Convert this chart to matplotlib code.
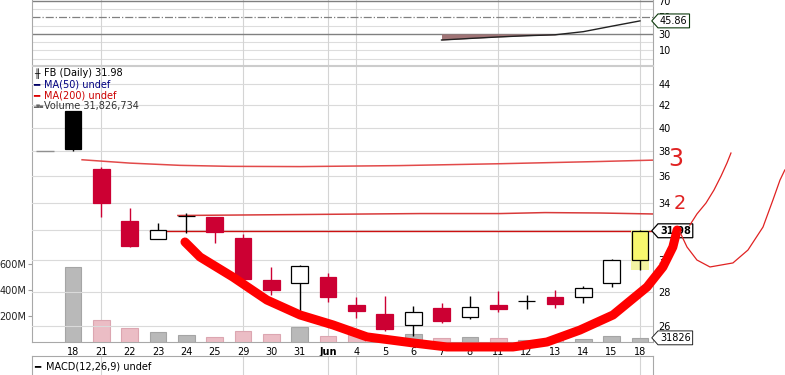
import matplotlib
matplotlib.use('Agg')
import matplotlib.pyplot as plt
from matplotlib.path import Path
from matplotlib.transforms import blended_transform_factory
import numpy as np

plt.rcParams['font.family'] = ['DejaVu Sans']
plt.rcParams['font.size'] = 7

# ---- data ----
dates = ['18', '21', '22', '23', '24', '25', '29', '30', '31', 'Jun',
         '4', '5', '6', '7', '8', '11', '12', '13', '14', '15', '18']
opens = [41.5, 36.58, 32.67, 31.39, 33.00, 32.97, 31.46, 28.73, 28.53, 28.90,
         27.21, 26.69, 26.04, 27.02, 26.53, 27.20, 27.47, 27.67, 27.67, 28.55, 30.00]
highs = [41.5, 36.76, 33.62, 32.55, 33.26, 32.97, 31.76, 29.54, 29.67, 29.15,
         27.67, 27.75, 27.16, 27.33, 27.73, 28.05, 27.79, 28.10, 28.35, 30.10, 32.00]
lows = [38.0, 32.97, 30.90, 31.39, 31.80, 31.12, 28.65, 27.81, 26.82, 27.38,
        26.44, 25.74, 25.46, 26.15, 26.41, 26.82, 26.96, 27.06, 27.35, 28.30, 29.37]
closes = [38.2, 33.99, 30.96, 32.03, 33.05, 31.91, 28.82, 28.13, 29.60, 27.71,
          26.88, 25.85, 26.79, 26.30, 27.08, 27.00, 27.43, 27.26, 28.26, 29.99, 31.98]
volumes = [575, 170, 108, 79, 56, 38, 87, 64, 115, 48,
           60, 42, 61, 31, 38, 31, 19, 17, 23, 46, 32]   # millions
ipo_price = 38.0
week_starts = [1, 6, 9, 10, 15, 20]

rsi_idx = [13, 14, 15, 16, 17, 18, 19, 20]
rsi_vals = [22.7, 24.6, 26.4, 27.9, 29.0, 32.8, 39.4, 45.86]

price_ticks = [26, 28, 30, 32, 34, 36, 38, 40, 42, 44]
vol_ticks = [200, 400, 600]
rsi_ticks = [10, 30, 50, 70]

# hand drawn marks (index, price)
level3_x = [0.32, 2.01, 3.77, 5.54, 8.01, 11.53, 15.06, 18.59, 20.46]
level3_p = [37.32, 37.05, 36.87, 36.79, 36.77, 36.85, 37.00, 37.18, 37.29]
level2_x = [3.70, 8.01, 12.24, 15.06, 16.65, 18.59, 20.46]
level2_p = [33.06, 33.13, 33.20, 33.20, 33.27, 33.24, 33.17]
last_line_x = [2.72, 20.46]
curve_x = [3.95, 4.48, 5.64, 6.84, 8.01, 9.17, 10.37, 11.99, 13.19, 14.36,
           15.52, 16.72, 17.88, 19.05, 20.25, 20.81, 21.16, 21.31]
curve_p = [31.21, 30.21, 28.92, 27.51, 26.63, 26.06, 25.39, 25.06, 24.84, 24.84,
           24.84, 25.11, 25.77, 26.63, 28.30, 29.56, 30.87, 32.03]
scrA_x = [21.76, 22.01, 22.33, 22.61, 22.86, 23.07, 23.21]
scrA_p = [32.38, 33.17, 33.97, 34.94, 36.02, 37.06, 37.87]
scrB_x = [21.41, 21.66, 22.01, 22.47, 23.28, 23.81, 24.34, 24.69, 24.94, 25.11]
scrB_p = [31.89, 30.87, 30.01, 29.56, 29.82, 30.67, 32.24, 34.19, 35.71, 36.50]

RED = '#cc0033'
W, H = 785, 375


def rect(x0, y0, x1, y1):
    return [x0 / W, 1 - y1 / H, (x1 - x0) / W, (y1 - y0) / H]


def tag_box(x0, y0, width, height, mutation_size):
    pad = 0.2 * mutation_size
    x0 -= pad
    y0 -= pad
    w = width + 2 * pad
    h = height + 2 * pad
    tip = 0.45 * h
    verts = [(x0 - tip, y0 + h / 2), (x0, y0), (x0 + w, y0), (x0 + w, y0 + h),
             (x0, y0 + h), (x0 - tip, y0 + h / 2)]
    return Path(verts, closed=True)


fig = plt.figure(figsize=(7.85, 3.75), dpi=100)
ax_rsi = fig.add_axes(rect(32, 0, 653, 65))
ax_vol = fig.add_axes(rect(32, 66, 653, 342))
ax = ax_vol.twinx()
ax_macd = fig.add_axes(rect(32, 355.5, 653, 390))

x = np.arange(len(dates))
xlim = (-1.446, 20.46)

# ---------- volume ----------
prev = [None] + closes[:-1]
vol_colors = []
vol_edges = []
for c, p in zip(closes, prev):
    if p is not None and c < p:
        vol_colors.append('#ebbdc5')
        vol_edges.append('#dca6b1')
    else:
        vol_colors.append('#b9b9b9')
        vol_edges.append('#a5a5a5')
ax_vol.bar(x, volumes, width=0.59, color=vol_colors, edgecolor=vol_edges, lw=0.8, zorder=3)
ax_vol.set_xlim(*xlim)
ax_vol.set_ylim(0, 2123)
ax_vol.set_yticks(vol_ticks)
ax_vol.set_yticklabels(['%dM' % v for v in vol_ticks])
ax_vol.tick_params(axis='y', length=3, color='#a0a0a0', pad=1, labelsize=7, labelcolor='#222222')
ax_vol.set_xticks(x)
ax_vol.set_xticklabels(dates)
ax_vol.tick_params(axis='x', length=0, pad=3.5, labelsize=7)
for lab in ax_vol.get_xticklabels():
    if lab.get_text() == 'Jun':
        lab.set_fontweight('bold')
for wk in week_starts:
    ax_vol.axvline(wk, color='#d4d4d4', lw=0.8, zorder=0)
for sp in ax_vol.spines.values():
    sp.set_color('#a8a8a8')
ax_vol.spines['top'].set_color('#cccccc')
ax_vol.annotate('31826', xy=(1, volumes[-1]),
                xycoords=blended_transform_factory(ax_vol.transAxes, ax_vol.transData),
                xytext=(5, 0), textcoords='offset points', va='center', ha='left',
                fontsize=7, annotation_clip=False, zorder=6,
                bbox=dict(boxstyle=tag_box, fc='white', ec='#222222', lw=0.7))

# ---------- price ----------
ax.set_yscale('log')
ax.set_ylim(25.11, 45.76)
ax.set_yticks(price_ticks)
ax.set_yticklabels([str(v) for v in price_ticks])
ax.yaxis.set_minor_locator(plt.NullLocator())
ax.tick_params(axis='y', length=0, pad=4, labelsize=7)
ax.grid(axis='y', color='#dadada', lw=0.8)
ax.set_axisbelow(True)
for sp in ax.spines.values():
    sp.set_visible(False)

ax.hlines(ipo_price, -1.30, -0.67, color='#909090', lw=1.0, zorder=3)

ax.plot(level3_x, level3_p, color='#e24a4a', lw=1.1, zorder=2)
ax.plot(level2_x, level2_p, color='#d83a3a', lw=1.1, zorder=2)
ax.plot(last_line_x, [closes[-1]] * 2, color='#cc1111', lw=1.0, zorder=2)

for i in range(len(dates)):
    o, h, l, c = opens[i], highs[i], lows[i], closes[i]
    if i == len(dates) - 1:
        ax.bar(i, h - l, bottom=l, width=0.66, color='#f4f4a2', lw=0, zorder=3)
        ax.vlines(i, l, h, color='black', lw=1, zorder=3.5)
        ax.bar(i, abs(c - o), bottom=min(o, c), width=0.59, color='#f8f86e',
               edgecolor='black', lw=0.9, zorder=4)
        continue
    if i == 0:
        fill, edge = 'black', 'black'
    elif c < closes[i - 1]:
        fill, edge = RED, RED
    elif c >= o:
        fill, edge = 'white', 'black'
    else:
        fill, edge = 'black', 'black'
    ax.vlines(i, l, h, color=edge, lw=1, zorder=3.5)
    ax.bar(i, max(abs(c - o), 0.03), bottom=min(o, c), width=0.59, color=fill,
           edgecolor=edge, lw=0.9, zorder=4)

blend = blended_transform_factory(ax.transAxes, ax.transData)
ax.annotate('31.98', xy=(1, closes[-1]), xycoords=blend, xytext=(5, 0),
            textcoords='offset points', va='center', ha='left', fontsize=7,
            fontweight='bold', annotation_clip=False, zorder=6,
            bbox=dict(boxstyle=tag_box, fc='white', ec='black', lw=0.9))

# legend block
def fx(px):
    return (px - 32) / 621


def fy(py):
    return 1 - (py - 66) / 276


ax.text(fx(34), fy(73.5), '\u256b', color='black', fontsize=6.5, va='center', ha='left')
ax.text(fx(44), fy(73.5), 'FB (Daily) 31.98', color='black', fontsize=7, va='center', ha='left')
ax.text(fx(33), fy(84.5), '\u2501', color='#000066', fontsize=7.5, va='center', ha='left')
ax.text(fx(44), fy(84.5), 'MA(50) undef', color='#000080', fontsize=7, va='center', ha='left')
ax.text(fx(33), fy(95), '\u2501', color='#dd0000', fontsize=7.5, va='center', ha='left')
ax.text(fx(44), fy(95), 'MA(200) undef', color='#cc0000', fontsize=7, va='center', ha='left')
ax.text(fx(33.5), fy(106), '\u2583\u2587\u2585', color='#666666', fontsize=3.2, va='center', ha='left')
ax.text(fx(44), fy(105.5), 'Volume 31,826,734', color='#333333', fontsize=7, va='center', ha='left')
for t in ax.texts[-8:]:
    t.set_transform(ax.transAxes)

# hand drawn annotations
ax.plot(curve_x, curve_p, color='#ff0000', lw=6.5, solid_capstyle='round',
        solid_joinstyle='round', zorder=10, clip_on=False)
ax.plot(scrA_x, scrA_p, color='#e02222', lw=0.9, zorder=10, clip_on=False)
ax.plot(scrB_x, scrB_p, color='#e02222', lw=0.9, zorder=10, clip_on=False)
ax.text(21.27, 37.4, '3', color='#e02222', fontsize=17, family=['DejaVu Sans'],
        fontweight='normal', ha='center', va='center', zorder=10, clip_on=False)
ax.text(21.41, 33.9, '2', color='#e02222', fontsize=14, family=['DejaVu Sans'],
        fontweight='normal', ha='center', va='center', zorder=10, clip_on=False)

# ---------- RSI panel ----------
ax_rsi.set_xlim(*xlim)
ax_rsi.set_ylim(-7.6, 71.2)
for v in [0, 10, 20, 40, 60]:
    ax_rsi.axhline(v, color='#dddddd', lw=0.8, zorder=0)
for v in [30, 70]:
    ax_rsi.axhline(v, color='#808080', lw=1.0, zorder=1)
ax_rsi.axhline(50, color='#808080', lw=0.9, ls='-.', zorder=1)
for wk in week_starts:
    ax_rsi.axvline(wk, color='#d4d4d4', lw=0.8, zorder=0)
rsi_arr = np.array(rsi_vals)
ax_rsi.fill_between(rsi_idx, rsi_arr, 30, where=rsi_arr < 30, interpolate=True,
                    color='#a07476', lw=0, zorder=2)
ax_rsi.plot(rsi_idx, rsi_vals, color='#222222', lw=1.0, zorder=3)
ax_rsi.yaxis.tick_right()
ax_rsi.set_yticks(rsi_ticks)
ax_rsi.set_yticklabels([str(v) for v in rsi_ticks])
ax_rsi.tick_params(axis='y', length=0, pad=4, labelsize=7)
ax_rsi.set_xticks([])
for sp in ax_rsi.spines.values():
    sp.set_color('#a8a8a8')
ax_rsi.spines['top'].set_visible(False)
ax_rsi.spines['bottom'].set_color('#cccccc')
ax_rsi.annotate('45.86', xy=(1, rsi_vals[-1]),
                xycoords=blended_transform_factory(ax_rsi.transAxes, ax_rsi.transData),
                xytext=(5, 0), textcoords='offset points', va='center', ha='left',
                fontsize=7, annotation_clip=False, zorder=6,
                bbox=dict(boxstyle=tag_box, fc='white', ec='#0d3a0d', lw=0.8))

# ---------- MACD panel ----------
ax_macd.set_xlim(*xlim)
ax_macd.set_ylim(0, 1)
for wk in week_starts:
    ax_macd.axvline(wk, color='#d4d4d4', lw=0.8, zorder=0)
ax_macd.set_xticks([])
ax_macd.set_yticks([])
for sp in ax_macd.spines.values():
    sp.set_color('#a8a8a8')
ax_macd.text(0.003, 0.68, '\u2501', color='black', fontsize=7.5, va='center',
             ha='left', transform=ax_macd.transAxes)
ax_macd.text(0.022, 0.68, 'MACD(12,26,9) undef', color='black', fontsize=7,
             va='center', ha='left', transform=ax_macd.transAxes)

fig.savefig('out.png', dpi=100)
